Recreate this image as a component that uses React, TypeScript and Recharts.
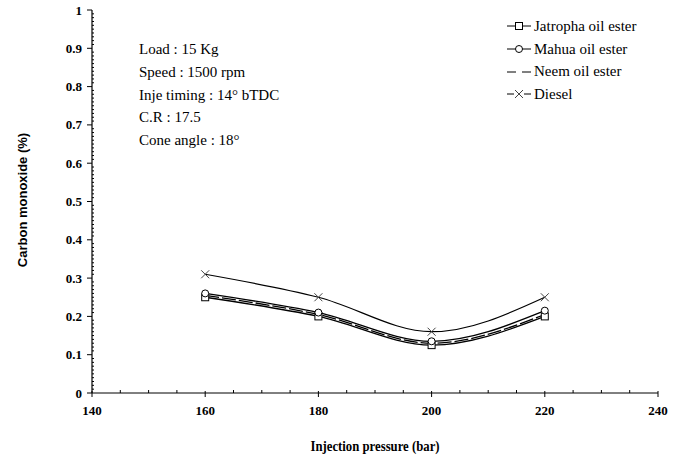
import { LineChart, Line, XAxis, YAxis } from 'recharts';

const pressures = [160, 180, 200, 220];
const jatropha = [0.25, 0.2, 0.125, 0.2];
const mahua = [0.26, 0.21, 0.135, 0.215];
const neem = [0.255, 0.205, 0.13, 0.205];
const diesel = [0.31, 0.25, 0.16, 0.25];

const xTicks = [140, 160, 180, 200, 220, 240];
const yTicks = [0, 0.1, 0.2, 0.3, 0.4, 0.5, 0.6, 0.7, 0.8, 0.9, 1];
// minor tick marks (no labels): every 5 bar and every 0.01 %
const xMinorTicks = Array.from({ length: 19 }, (_, i) => 145 + i * 5).filter((v) => v % 20 !== 0);
const yMinorTicks = Array.from({ length: 99 }, (_, i) => (i + 1) / 100).filter((_, i) => (i + 1) % 10 !== 0);

const conditions = ['Load : 15 Kg', 'Speed : 1500 rpm', 'Inje timing : 14° bTDC', 'C.R : 17.5', 'Cone angle : 18°'];

const data = pressures.map((p, i) => ({
  pressure: p,
  jatropha: jatropha[i],
  mahua: mahua[i],
  neem: neem[i],
  diesel: diesel[i],
}));

const serif = 'Liberation Serif';

function SquareDot(props: any) {
  const { cx, cy, index } = props;
  return <rect key={`sq-${index}`} x={cx - 3.5} y={cy - 3.5} width={7} height={7} fill="#fff" stroke="#000" strokeWidth={1} />;
}

function CircleDot(props: any) {
  const { cx, cy, index } = props;
  return <circle key={`ci-${index}`} cx={cx} cy={cy} r={3.5} fill="#fff" stroke="#000" strokeWidth={1} />;
}

function CrossDot(props: any) {
  const { cx, cy, index } = props;
  return (
    <path key={`x-${index}`} d={`M${cx - 4},${cy - 4}L${cx + 4},${cy + 4}M${cx - 4},${cy + 4}L${cx + 4},${cy - 4}`} stroke="#444" strokeWidth={1} fill="none" />
  );
}

// tickSize/tickMargin are 0, so x/y sit right on the axis line
function XTick(props: any) {
  const { x, y, payload } = props;
  if (!xTicks.includes(payload.value)) {
    return <line x1={x} y1={y} x2={x} y2={y - 3} stroke="#000" />;
  }
  return (
    <g>
      <line x1={x} y1={y - 2} x2={x} y2={y + 4} stroke="#000" />
      <text x={x} y={y + 22} textAnchor="middle" fontFamily={serif} fontWeight={700} fontSize={13} fill="#000">
        {payload.value}
      </text>
    </g>
  );
}

function YTick(props: any) {
  const { x, y, payload } = props;
  if (!yTicks.includes(payload.value)) {
    return <line x1={x} y1={y} x2={x + 2} y2={y} stroke="#000" />;
  }
  return (
    <g>
      <line x1={x - 5} y1={y} x2={x} y2={y} stroke="#000" />
      <text x={x - 10} y={y + 4.5} textAnchor="end" fontFamily={serif} fontWeight={700} fontSize={13} fill="#000">
        {payload.value}
      </text>
    </g>
  );
}

const legendItems = [
  { name: 'Jatropha oil ester', marker: 'square' },
  { name: 'Mahua oil ester', marker: 'circle' },
  { name: 'Neem oil ester', marker: 'none' },
  { name: 'Diesel', marker: 'cross' },
];

function ChartLegend() {
  return (
    <div style={{ position: 'absolute', left: 507, top: 15, fontFamily: serif, fontSize: 15, color: '#000' }}>
      {legendItems.map((it) => (
        <div key={it.name} style={{ display: 'flex', alignItems: 'center', height: 22.7 }}>
          <svg width={24} height={12} style={{ marginRight: 3 }}>
            <line x1={0} y1={6} x2={24} y2={6} stroke="#000" strokeWidth={1} />
            {it.marker === 'square' && <rect x={8.5} y={2.5} width={7} height={7} fill="#fff" stroke="#000" />}
            {it.marker === 'circle' && <circle cx={12} cy={6} r={3.5} fill="#fff" stroke="#000" />}
            {it.marker === 'none' && <rect x={9} y={4} width={6} height={4} fill="#fff" />}
            {it.marker === 'cross' && (
              <>
                <rect x={7} y={1} width={10} height={10} fill="#fff" />
                <path d="M8,2L16,10M8,10L16,2" stroke="#444" />
              </>
            )}
          </svg>
          <span>{it.name}</span>
        </div>
      ))}
    </div>
  );
}

export default function App() {
  return (
    <div style={{ position: 'absolute', left: 0, top: 0, width: 683, height: 459, background: '#fff' }}>
      <LineChart width={683} height={459} data={data} margin={{ top: 10, right: 25, left: 52, bottom: 36 }}>
        <XAxis
          dataKey="pressure"
          type="number"
          domain={[140, 240]}
          ticks={[...xTicks, ...xMinorTicks]}
          interval={0}
          stroke="#000"
          tickLine={false}
          tickSize={0}
          tickMargin={0}
          tick={<XTick />}
          height={30}
        />
        <YAxis
          type="number"
          domain={[0, 1]}
          ticks={[...yTicks, ...yMinorTicks]}
          interval={0}
          stroke="#000"
          strokeWidth={1.2}
          tickLine={false}
          tickSize={0}
          tickMargin={0}
          width={40}
          tick={<YTick />}
        />
        <YAxis yAxisId="right" orientation="right" type="number" domain={[0, 1]} stroke="#000" tick={false} tickLine={false} width={0} />
        <XAxis xAxisId="top" orientation="top" type="number" domain={[140, 240]} stroke="#000" tick={false} tickLine={false} height={0} />
        <Line type="monotone" dataKey="jatropha" name="Jatropha oil ester" stroke="#000" strokeWidth={1.3} dot={SquareDot} isAnimationActive={false} />
        <Line type="monotone" dataKey="mahua" name="Mahua oil ester" stroke="#000" strokeWidth={1.3} dot={CircleDot} isAnimationActive={false} />
        <Line type="monotone" dataKey="neem" name="Neem oil ester" stroke="#000" strokeWidth={1.3} dot={false} strokeDasharray="14 3" isAnimationActive={false} />
        <Line type="monotone" dataKey="diesel" name="Diesel" stroke="#000" strokeWidth={1.2} dot={CrossDot} isAnimationActive={false} />
      </LineChart>
      <ChartLegend />
      <div style={{ position: 'absolute', left: 139, top: 38, fontFamily: serif, fontSize: 15, lineHeight: '22.8px', color: '#000' }}>
        {conditions.map((c) => (
          <div key={c}>{c}</div>
        ))}
      </div>
      <div
        style={{
          position: 'absolute',
          left: 22,
          top: 200,
          transform: 'translate(-50%, -50%) rotate(-90deg)',
          whiteSpace: 'nowrap',
          fontFamily: 'Liberation Sans',
          fontWeight: 700,
          fontSize: 13,
          color: '#000',
        }}
      >
        Carbon monoxide (%)
      </div>
      <div
        style={{
          position: 'absolute',
          left: 375,
          top: 446,
          transform: 'translate(-50%, -50%) scaleX(0.85)',
          whiteSpace: 'nowrap',
          fontFamily: serif,
          fontWeight: 700,
          fontSize: 15,
          color: '#000',
        }}
      >
        Injection pressure (bar)
      </div>
    </div>
  );
}
